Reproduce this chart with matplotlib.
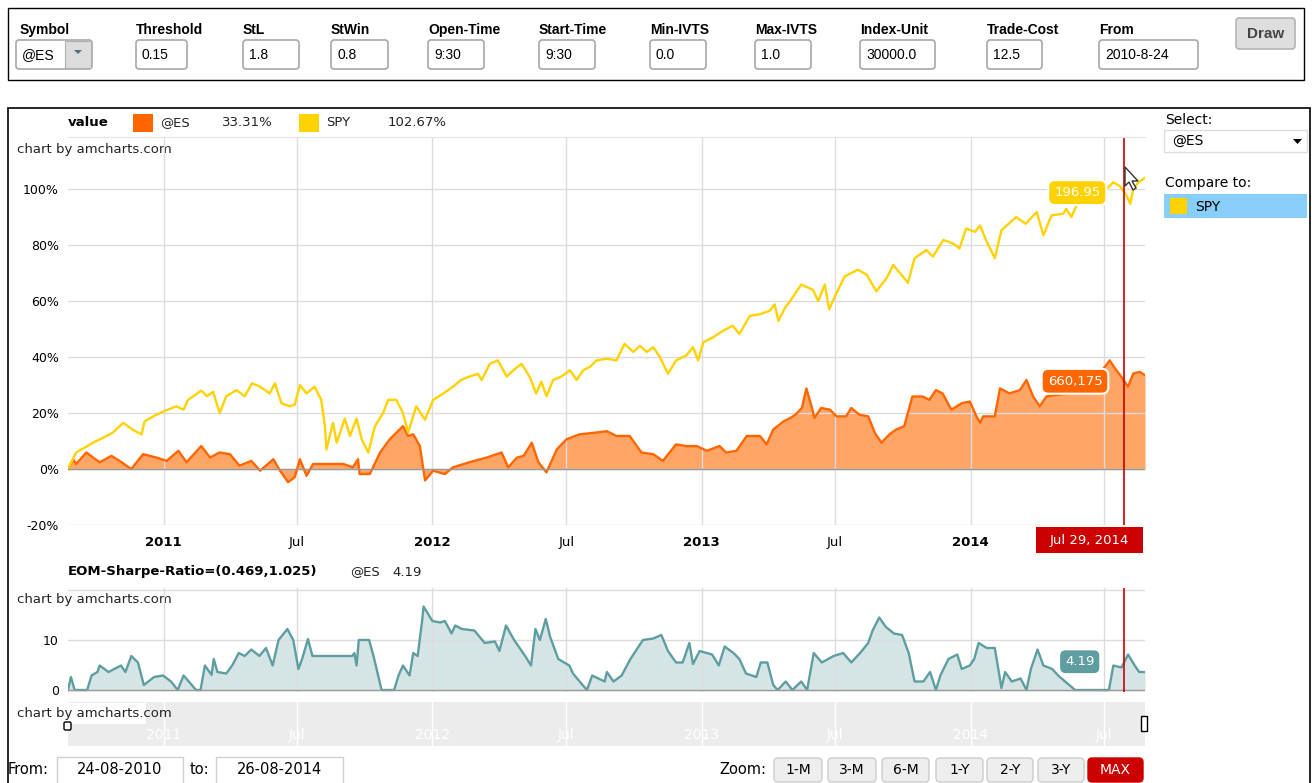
import matplotlib
matplotlib.use('Agg')
import matplotlib.pyplot as plt
from matplotlib.patches import Rectangle, FancyBboxPatch, Polygon
from matplotlib.transforms import blended_transform_factory
import matplotlib.dates as mdates
import numpy as np
import pandas as pd

plt.rcParams['font.family'] = ['DejaVu Sans']
cond = ['Liberation Sans', 'DejaVu Sans']

W, H = 1312, 783

# ---- data ----
spy_dates = ['2010-08-24', '2010-09-04', '2010-09-18', '2010-09-27', '2010-10-11', '2010-10-24', '2010-11-07',
             '2010-11-20', '2010-12-02', '2010-12-06', '2010-12-22', '2011-01-05', '2011-01-18', '2011-01-28',
             '2011-02-03', '2011-02-21', '2011-03-01', '2011-03-09', '2011-03-18', '2011-03-27', '2011-04-10',
             '2011-04-21', '2011-05-01', '2011-05-12', '2011-05-25', '2011-06-01', '2011-06-10', '2011-06-21',
             '2011-06-28', '2011-07-05', '2011-07-14', '2011-07-25', '2011-08-03', '2011-08-08', '2011-08-10',
             '2011-08-19', '2011-08-24', '2011-09-04', '2011-09-11', '2011-09-20', '2011-09-27', '2011-10-06',
             '2011-10-15', '2011-10-26', '2011-11-02', '2011-11-13', '2011-11-22', '2011-11-29', '2011-12-10',
             '2011-12-22', '2012-01-02', '2012-01-16', '2012-01-29', '2012-02-09', '2012-02-20', '2012-03-03',
             '2012-03-08', '2012-03-19', '2012-03-30', '2012-04-11', '2012-04-20', '2012-05-01', '2012-05-12',
             '2012-05-21', '2012-05-28', '2012-06-04', '2012-06-13', '2012-06-24', '2012-07-06', '2012-07-15',
             '2012-07-24', '2012-08-02', '2012-08-11', '2012-08-25', '2012-09-07', '2012-09-18', '2012-09-30',
             '2012-10-09', '2012-10-18', '2012-10-27', '2012-11-05', '2012-11-16', '2012-11-27', '2012-12-11',
             '2012-12-20', '2012-12-27', '2013-01-03', '2013-01-16', '2013-01-30', '2013-02-12', '2013-02-21',
             '2013-03-07', '2013-03-21', '2013-04-03', '2013-04-10', '2013-04-15', '2013-04-24', '2013-05-01',
             '2013-05-16', '2013-06-01', '2013-06-08', '2013-06-17', '2013-06-23', '2013-07-01', '2013-07-14',
             '2013-08-01', '2013-08-13', '2013-08-26', '2013-09-09', '2013-09-18', '2013-09-27', '2013-10-08',
             '2013-10-17', '2013-11-02', '2013-11-11', '2013-11-25', '2013-12-08', '2013-12-17', '2013-12-26',
             '2014-01-07', '2014-01-14', '2014-01-23', '2014-02-03', '2014-02-12', '2014-03-04', '2014-03-17',
             '2014-04-01', '2014-04-10', '2014-04-21', '2014-05-07', '2014-05-11', '2014-05-18', '2014-05-27',
             '2014-06-12', '2014-06-21', '2014-07-07', '2014-07-14', '2014-07-23', '2014-08-01', '2014-08-06',
             '2014-08-10', '2014-08-17', '2014-08-26']
spy_vals = [0, 5.9, 8.0, 9.4, 11.2, 13.0, 16.5, 14.0, 12.4, 17.0, 19.4, 21.0, 22.4, 21.2, 24.7, 28.0, 26.0, 27.6,
            20.0, 26.0, 28.2, 26.0, 30.6, 29.4, 27.0, 30.6, 23.5, 22.4, 23.0, 30.0, 27.0, 29.4, 24.7, 15.3, 7.0,
            16.5, 9.4, 18.0, 11.8, 18.0, 10.6, 5.9, 15.3, 20.0, 24.7, 24.7, 20.0, 13.0, 22.4, 17.6, 24.7, 27.0,
            29.4, 31.8, 33.0, 34.0, 31.8, 37.6, 38.8, 33.0, 35.3, 37.6, 33.0, 27.0, 31.2, 26.0, 31.8, 33.0, 35.3,
            31.8, 35.3, 36.5, 38.8, 39.4, 38.8, 44.7, 41.8, 44.0, 41.8, 43.5, 40.0, 34.0, 38.8, 40.6, 43.5, 38.8,
            45.3, 47.0, 49.4, 51.2, 48.2, 54.7, 55.3, 56.5, 58.8, 52.9, 57.6, 60.0, 65.9, 64.0, 60.0, 65.9, 57.0,
            61.8, 68.8, 71.2, 69.4, 63.5, 68.2, 72.9, 70.0, 66.5, 75.3, 78.2, 75.9, 81.8, 80.6, 78.8, 85.9, 84.7,
            87.0, 81.2, 75.3, 85.3, 90.0, 87.6, 91.8, 83.5, 90.6, 91.2, 92.9, 90.0, 95.3, 97.6, 99.4, 100.6,
            102.4, 101.0, 97.6, 94.7, 100.0, 102.4, 104.0]

es_dates = ['2010-08-24', '2010-08-31', '2010-09-04', '2010-09-18', '2010-09-27', '2010-10-06', '2010-10-22',
            '2010-11-02', '2010-11-18', '2010-12-04', '2010-12-22', '2011-01-05', '2011-01-21', '2011-02-01',
            '2011-02-21', '2011-03-05', '2011-03-18', '2011-04-01', '2011-04-14', '2011-04-30', '2011-05-12',
            '2011-05-30', '2011-06-08', '2011-06-19', '2011-06-28', '2011-07-05', '2011-07-14', '2011-07-23',
            '2011-09-02', '2011-09-15', '2011-09-22', '2011-09-24', '2011-10-08', '2011-10-22', '2011-11-04',
            '2011-11-22', '2011-11-29', '2011-12-06', '2011-12-15', '2011-12-22', '2012-01-02', '2012-01-18',
            '2012-01-29', '2012-02-20', '2012-03-15', '2012-04-04', '2012-04-13', '2012-04-25', '2012-05-04',
            '2012-05-15', '2012-05-24', '2012-06-04', '2012-06-18', '2012-07-01', '2012-07-19', '2012-08-06',
            '2012-08-25', '2012-09-07', '2012-09-25', '2012-10-11', '2012-10-27', '2012-11-09', '2012-11-27',
            '2012-12-11', '2012-12-25', '2013-01-08', '2013-01-25', '2013-02-03', '2013-02-17', '2013-03-03',
            '2013-03-21', '2013-03-30', '2013-04-08', '2013-04-22', '2013-05-01', '2013-05-08', '2013-05-17',
            '2013-05-23', '2013-05-30', '2013-06-03', '2013-06-12', '2013-06-24', '2013-07-03', '2013-07-16',
            '2013-07-23', '2013-08-03', '2013-08-15', '2013-08-24', '2013-09-02', '2013-09-13', '2013-09-22',
            '2013-10-03', '2013-10-14', '2013-10-28', '2013-11-06', '2013-11-15', '2013-11-24', '2013-12-06',
            '2013-12-20', '2013-12-31', '2014-01-09', '2014-01-14', '2014-01-18', '2014-02-03', '2014-02-10',
            '2014-02-23', '2014-03-09', '2014-03-18', '2014-03-27', '2014-04-05', '2014-04-14', '2014-04-28',
            '2014-05-16', '2014-06-12', '2014-07-09', '2014-07-18', '2014-07-25', '2014-08-03', '2014-08-10',
            '2014-08-19', '2014-08-26']
es_vals = [0, 3.5, 1.8, 5.9, 4.1, 2.4, 4.7, 2.9, 0.0, 5.3, 4.1, 2.9, 6.5, 2.4, 8.2, 4.1, 5.9, 5.3, 1.2, 2.9, -0.6,
           3.5, -0.6, -4.7, -2.9, 3.5, -2.4, 1.8, 1.8, 0.6, 3.5, -1.8, -1.8, 5.9, 10.6, 15.3, 11.8, 12.4, 8.2,
           -4.1, -0.6, -1.8, 0.6, 2.4, 4.1, 5.9, 0.6, 4.1, 4.7, 9.4, 2.4, -1.2, 7.0, 10.6, 12.4, 12.9, 13.5, 11.8,
           11.8, 5.9, 5.3, 2.9, 8.8, 8.2, 8.2, 6.5, 8.2, 5.9, 6.5, 11.8, 11.8, 8.8, 14.1, 17.0, 18.2, 19.4, 21.8,
           28.8, 22.4, 18.2, 21.8, 21.2, 18.8, 18.8, 21.8, 19.4, 18.8, 12.9, 9.4, 12.4, 14.1, 15.3, 25.9, 25.9,
           24.7, 28.2, 27.0, 21.2, 23.5, 24.1, 18.8, 16.5, 18.8, 18.8, 28.8, 27.0, 28.2, 31.8, 25.9, 22.4, 25.9,
           26.5, 27.0, 29.4, 38.8, 35.3, 32.9, 29.4, 34.1, 34.7, 33.5]

sharpe_dates = ['2010-08-24', '2010-08-28', '2010-09-02', '2010-09-19', '2010-09-25', '2010-10-03', '2010-10-06',
                '2010-10-18', '2010-11-04', '2010-11-10', '2010-11-18', '2010-11-27', '2010-12-05', '2010-12-19',
                '2010-12-31', '2011-01-11', '2011-01-20', '2011-01-28', '2011-02-14', '2011-02-20', '2011-02-26',
                '2011-03-07', '2011-03-10', '2011-03-15', '2011-03-27', '2011-04-04', '2011-04-13', '2011-04-21',
                '2011-04-30', '2011-05-11', '2011-05-20', '2011-05-29', '2011-06-06', '2011-06-18', '2011-06-26',
                '2011-07-03', '2011-07-08', '2011-07-16', '2011-07-22', '2011-09-14', '2011-09-17', '2011-09-20',
                '2011-09-23', '2011-10-07', '2011-10-13', '2011-10-24', '2011-11-10', '2011-11-16', '2011-11-22',
                '2011-12-01', '2011-12-06', '2011-12-12', '2011-12-18', '2011-12-20', '2012-01-01', '2012-01-12',
                '2012-01-18', '2012-01-27', '2012-02-01', '2012-02-10', '2012-02-27', '2012-03-12', '2012-03-26',
                '2012-04-01', '2012-04-10', '2012-04-21', '2012-05-06', '2012-05-14', '2012-05-20', '2012-05-26',
                '2012-06-03', '2012-06-09', '2012-06-20', '2012-07-05', '2012-07-10', '2012-07-19', '2012-07-29',
                '2012-08-05', '2012-08-22', '2012-08-25', '2012-09-03', '2012-09-14', '2012-09-26', '2012-10-13',
                '2012-10-27', '2012-11-07', '2012-11-16', '2012-11-27', '2012-12-06', '2012-12-15', '2012-12-20',
                '2012-12-29', '2013-01-15', '2013-01-24', '2013-02-01', '2013-02-13', '2013-02-21', '2013-03-02',
                '2013-03-16', '2013-03-22', '2013-03-31', '2013-04-08', '2013-04-14', '2013-04-25', '2013-05-04',
                '2013-05-16', '2013-05-24', '2013-06-02', '2013-06-13', '2013-06-29', '2013-07-12', '2013-07-23',
                '2013-08-04', '2013-08-15', '2013-08-21', '2013-08-30', '2013-09-08', '2013-09-19', '2013-09-30',
                '2013-10-09', '2013-10-17', '2013-10-29', '2013-11-07', '2013-11-15', '2013-11-21', '2013-12-02',
                '2013-12-14', '2013-12-20', '2013-12-31', '2014-01-06', '2014-01-12', '2014-01-23', '2014-02-03',
                '2014-02-12', '2014-02-17', '2014-02-26', '2014-03-10', '2014-03-18', '2014-03-24', '2014-04-02',
                '2014-04-10', '2014-04-22', '2014-04-30', '2014-05-23', '2014-06-15', '2014-07-08', '2014-07-14',
                '2014-07-25', '2014-08-03', '2014-08-12', '2014-08-18', '2014-08-26']
sharpe_vals = [0, 2.6, 0, 0, 2.9, 3.6, 4.9, 3.6, 4.9, 3.6, 6.8, 5.5, 1.0, 2.6, 2.9, 1.7, 0, 2.9, 0, 0, 4.9, 3.0,
               6.2, 3.6, 3.3, 4.9, 7.4, 6.8, 8.1, 6.8, 8.4, 4.9, 10.0, 12.2, 10.0, 4.2, 6.2, 10.2, 6.8, 6.8, 7.4,
               4.9, 10.0, 10.0, 6.8, 0, 0, 2.9, 4.9, 2.9, 7.4, 6.8, 13.8, 16.7, 13.8, 13.5, 13.8, 11.3, 12.9, 12.2,
               11.9, 9.4, 9.7, 7.8, 12.9, 10.0, 6.8, 4.9, 12.2, 10.0, 14.2, 10.6, 6.2, 4.9, 3.3, 1.7, 0, 2.9, 1.7,
               3.6, 1.7, 2.9, 6.2, 10.0, 10.3, 11.0, 7.8, 5.5, 5.5, 9.4, 5.2, 7.8, 7.1, 4.9, 8.7, 7.4, 6.2, 3.3,
               2.6, 5.5, 5.5, 1.0, 0, 1.7, 0, 1.7, 0, 7.4, 5.5, 6.8, 7.4, 5.5, 7.4, 9.4, 11.9, 14.5, 12.6, 11.3,
               11.0, 7.4, 1.7, 1.7, 3.6, 0, 2.9, 6.2, 7.1, 4.2, 4.9, 6.2, 9.4, 8.4, 8.4, 0.4, 3.6, 1.7, 2.3, 0,
               4.2, 8.1, 4.9, 4.2, 2.9, 0, 0, 0, 4.9, 4.5, 7.1, 4.9, 3.6, 3.6]

tick_dates = ['2011-01-01', '2011-07-01', '2012-01-01', '2012-07-01',
              '2013-01-01', '2013-07-01', '2014-01-01', '2014-07-01']
tick_labels = ['2011', 'Jul', '2012', 'Jul', '2013', 'Jul', '2014', 'Jul']
pct_ticks = [-20, 0, 20, 40, 60, 80, 100]
sharpe_ticks = [0, 10, 20]
start_date, end_date = '2010-08-24', '2014-08-26'
cursor_date = '2014-07-29'
cursor_label = 'Jul 29, 2014'

legend_items = [('@ES', '33.31%', '#ff6600'), ('SPY', '102.67%', '#ffd200')]
sharpe_title = 'EOM-Sharpe-Ratio=(0.469,1.025)'
balloon_spy, balloon_es, balloon_sharpe = '196.95', '660,175', '4.19'

controls = [('Symbol', '@ES'), ('Threshold', '0.15'), ('StL', '1.8'), ('StWin', '0.8'),
            ('Open-Time', '9:30'), ('Start-Time', '9:30'), ('Min-IVTS', '0.0'), ('Max-IVTS', '1.0'),
            ('Index-Unit', '30000.0'), ('Trade-Cost', '12.5'), ('From', '2010-8-24')]
ctrl_x = [16, 136, 243, 331, 428, 539, 650, 755, 860, 987, 1099]
ctrl_w = [76, 51, 56, 57, 56, 56, 56, 56, 75, 55, 99]
zoom_buttons = ['1-M', '3-M', '6-M', '1-Y', '2-Y', '3-Y', 'MAX']
zoom_x = [774, 828, 882, 936, 987, 1038, 1088]
zoom_w = [48, 48, 47, 47, 46, 46, 55]

spy_d, es_d, sh_d = pd.to_datetime(spy_dates), pd.to_datetime(es_dates), pd.to_datetime(sharpe_dates)
ticks = pd.to_datetime(tick_dates)
x0, x1 = pd.to_datetime(start_date), pd.to_datetime(end_date)
cur = pd.to_datetime(cursor_date)


def rect(a, b, c, d):
    return [a / W, 1 - d / H, (c - a) / W, (d - b) / H]


def value_at(dates, vals, when):
    return np.interp(mdates.date2num(when), mdates.date2num(dates), vals)


fig = plt.figure(figsize=(W / 100, H / 100), dpi=100)
fig.patch.set_facecolor('white')

bg = fig.add_axes([0, 0, 1, 1], zorder=0)
bg.set_xlim(0, W)
bg.set_ylim(H, 0)
bg.axis('off')

# top control panel
bg.add_patch(Rectangle((8, 8), 1296, 72, fc='white', ec='black', lw=1))
for (lab, val), cx, cw in zip(controls, ctrl_x, ctrl_w):
    lx = cx + 4 if lab == 'Symbol' else cx
    bg.text(lx, 30, lab, family=cond, weight='bold', fontsize=10, va='center', ha='left')
    bg.add_patch(FancyBboxPatch((cx, 40), cw, 29, boxstyle='round,pad=0,rounding_size=3',
                                fc='white', ec='#a8a8a8', lw=1.2))
    bg.text(cx + 6, 55, val, family=cond, fontsize=10, va='center', ha='left')
# symbol drop-down button
bg.add_patch(Rectangle((65, 41), 26, 27, fc='#dcdcdc', ec='#b0b0b0', lw=0.8))
bg.add_patch(Polygon([[74, 50], [82, 50], [78, 54]], closed=True, fc='#4d6f80', ec='none'))
bg.add_patch(FancyBboxPatch((1236, 18), 59, 31, boxstyle='round,pad=0,rounding_size=3',
                            fc='#dedede', ec='#b4b4b4', lw=1.2))
bg.text(1265.5, 34, 'Draw', family=cond, weight='bold', fontsize=11, color='#444444', va='center', ha='center')

# chart frame
bg.add_patch(Rectangle((8, 108), 1302, 690, fc='white', ec='black', lw=1.2))

# legend row
bg.text(68, 123, 'value', fontsize=9.5, weight='bold', va='center', ha='left')
for (name, pct, col), px in zip(legend_items, [133, 299]):
    bg.add_patch(Rectangle((px, 114), 20, 18, fc=col, ec='none'))
    bg.text(px + 27, 123, name, fontsize=9.5, va='center', ha='left', color='#222222')
    bg.text(px + 89, 123, pct, fontsize=9.5, va='center', ha='left', color='#222222')
bg.text(17, 149, 'chart by amcharts.com', fontsize=9.5, va='center', ha='left', color='#222222')

# sharpe panel title
bg.text(68, 572, sharpe_title, fontsize=9.5, weight='bold', va='center', ha='left')
bg.text(350, 572, '@ES', fontsize=9.5, va='center', ha='left', color='#222222')
bg.text(392, 572, balloon_sharpe, fontsize=9.5, va='center', ha='left', color='#222222')
bg.text(17, 600, 'chart by amcharts.com', fontsize=9.5, va='center', ha='left', color='#222222')

# right panel
bg.text(1165, 120, 'Select:', fontsize=10, va='center', ha='left')
bg.add_patch(Rectangle((1164, 130), 143, 22, fc='white', ec='#dddddd', lw=1))
bg.text(1172, 141, '@ES', fontsize=10, va='center', ha='left')
bg.add_patch(Polygon([[1293, 139], [1302, 139], [1297.5, 144]], closed=True, fc='black', ec='none'))
bg.text(1165, 183, 'Compare to:', fontsize=10, va='center', ha='left')
bg.add_patch(Rectangle((1164, 194), 143, 24, fc='#87cefa', ec='none'))
bg.add_patch(Rectangle((1170, 198), 17, 16, fc='#ffd200', ec='none'))
bg.text(1195, 207, 'SPY', fontsize=10, va='center', ha='left')

# bottom controls
bg.text(8, 770, 'From:', fontsize=10.5, va='center', ha='left')
bg.add_patch(Rectangle((57, 757), 126, 28, fc='white', ec='#d0d0d0', lw=1))
bg.text(120, 770, start_date[8:] + '-' + start_date[5:7] + '-' + start_date[:4], fontsize=10.5,
        va='center', ha='center')
bg.text(190, 770, 'to:', fontsize=10.5, va='center', ha='left')
bg.add_patch(Rectangle((216, 757), 127, 28, fc='white', ec='#d0d0d0', lw=1))
bg.text(279, 770, end_date[8:] + '-' + end_date[5:7] + '-' + end_date[:4], fontsize=10.5,
        va='center', ha='center')
bg.text(766, 770, 'Zoom:', fontsize=10.5, va='center', ha='right')
for lab, bx, bw in zip(zoom_buttons, zoom_x, zoom_w):
    is_max = lab == 'MAX'
    bg.add_patch(FancyBboxPatch((bx, 758), bw, 24, boxstyle='round,pad=0,rounding_size=4',
                                fc='#cc0000' if is_max else '#eeeeee',
                                ec='#cc0000' if is_max else '#cccccc', lw=1))
    bg.text(bx + bw / 2, 770, lab, fontsize=10, va='center', ha='center',
            color='white' if is_max else 'black')

# ---- main chart ----
ax = fig.add_axes(rect(68, 137, 1145, 525), zorder=1)
ax.set_facecolor('none')
ax.fill_between(es_d, es_vals, 0, color='#ffa566', lw=0)
ax.plot(es_d, es_vals, color='#ff6600', lw=1.7)
ax.plot(spy_d, spy_vals, color='#ffd200', lw=1.7)
ax.axhline(0, color='#999999', lw=1)
ax.axvline(cur, color='#cc0000', lw=1.2)
ax.set_xlim(x0, x1)
ax.set_ylim(-20, 118.6)
ax.set_yticks(pct_ticks)
ax.set_yticklabels([f'{v}%' for v in pct_ticks], fontsize=9)
ax.set_xticks(ticks)
# the last month label sits under the cursor date box, so it is left blank here
main_labels = [t if d < cur - pd.Timedelta(days=60) else '' for t, d in zip(tick_labels, ticks)]
ax.set_xticklabels(main_labels, fontsize=9.5)
for lbl, t in zip(ax.get_xticklabels(), main_labels):
    if t.isdigit():
        lbl.set_fontweight('bold')
ax.tick_params(length=0)
ax.tick_params(axis='y', pad=6.5)
ax.tick_params(axis='x', pad=8)
ax.grid(True, color='#dcdcdc', lw=1)
for s in ['left', 'right', 'bottom']:
    ax.spines[s].set_visible(False)
ax.spines['top'].set_color('#e4e4e4')

# ---- sharpe panel ----
ax2 = fig.add_axes(rect(68, 588, 1145, 692), zorder=1)
ax2.set_facecolor('none')
ax2.fill_between(sh_d, sharpe_vals, 0, color='#d5e5e6', lw=0)
ax2.plot(sh_d, sharpe_vals, color='#5f9ea0', lw=1.7)
ax2.axhline(0, color='#999999', lw=1)
ax2.axvline(cur, color='#cc0000', lw=1.2)
ax2.set_xlim(x0, x1)
ax2.set_ylim(-0.4, 20.4)
ax2.set_yticks(sharpe_ticks)
ax2.set_yticklabels([str(v) if v < 20 else '' for v in sharpe_ticks], fontsize=9)
ax2.set_xticks(ticks)
ax2.set_xticklabels([])
ax2.tick_params(length=0)
ax2.tick_params(axis='y', pad=6.5)
ax2.grid(True, color='#dcdcdc', lw=1)
for s in ax2.spines.values():
    s.set_visible(False)

# ---- scrollbar ----
ax3 = fig.add_axes(rect(68, 702, 1145, 746), zorder=1)
ax3.set_facecolor('#ececec')
ax3.set_xlim(x0, x1)
ax3.set_ylim(0, 1)
ax3.set_xticks([])
ax3.set_yticks([])
for s in ax3.spines.values():
    s.set_visible(False)
tr3 = blended_transform_factory(ax3.transData, ax3.transAxes)
for t, lab in zip(ticks, tick_labels):
    ax3.axvline(t, color='white', lw=1)
    ax3.text(t, 0.25, lab, transform=tr3, color='white', fontsize=10, ha='center', va='center')

# ---- overlay: balloons, cursor label ----
fg = fig.add_axes([0, 0, 1, 1], zorder=5)
fg.set_xlim(0, W)
fg.set_ylim(H, 0)
fg.axis('off')
fg.patch.set_visible(False)

fg.add_patch(Rectangle((10, 703), 136, 21, fc='white', ec='none'))
fg.text(17, 714, 'chart by amcharts.com', fontsize=9.5, va='center', ha='left', color='#222222')
fg.add_patch(FancyBboxPatch((64, 722), 7, 8, boxstyle='round,pad=0,rounding_size=1.5',
                            fc='white', ec='black', lw=1))
fg.add_patch(Rectangle((1141, 716), 6, 15, fc='white', ec='black', lw=1))

fg.add_patch(Rectangle((1036, 527), 107, 26, fc='#cc0000', ec='none'))
fg.text(1089.5, 540.5, cursor_label, color='white', fontsize=9.5, va='center', ha='center')


def balloon(axis, dates, vals, text, col, gap):
    v = value_at(dates, vals, cur)
    axis.annotate(text, (cur, v), xytext=(-gap, 0), textcoords='offset pixels', ha='right', va='center',
                  color='white', fontsize=9.5, zorder=6,
                  bbox=dict(boxstyle='round,pad=0.45,rounding_size=0.5', fc=col, ec='white', lw=1.5))


balloon(ax, spy_d, spy_vals, balloon_spy, '#ffd200', 24)
balloon(ax, es_d, es_vals, balloon_es, '#ff6600', 22)
balloon(ax2, sh_d, sharpe_vals, balloon_sharpe, '#5f9ea0', 30)

# mouse pointer
fg.add_patch(Polygon([[1125, 167], [1125, 186], [1129, 182], [1133, 190], [1136, 188], [1132, 181],
                      [1138, 181]], closed=True, fc='white', ec='#333333', lw=1))

fig.savefig('out.png', dpi=100)
